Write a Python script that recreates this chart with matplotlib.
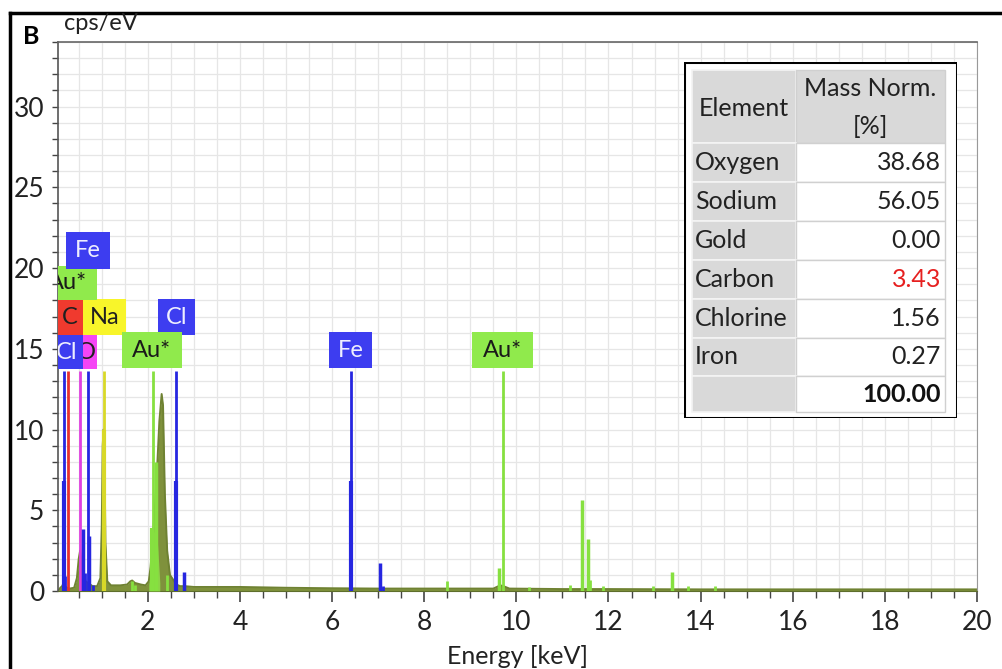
import numpy as np
import matplotlib
matplotlib.use('Agg')
import matplotlib.pyplot as plt
from matplotlib.patches import Rectangle
from matplotlib.ticker import MultipleLocator

plt.rcParams['font.family'] = ['Lato', 'DejaVu Sans']

# EDS spectrum (keV, cps/eV)
energy = [0.05, 0.10, 0.14, 0.17, 0.20, 0.24, 0.30, 0.40, 0.46, 0.50, 0.53, 0.56, 0.60,
          0.65, 0.70, 0.75, 0.80, 0.90, 0.97, 1.00, 1.02, 1.04, 1.06, 1.08, 1.12, 1.20,
          1.40, 1.55, 1.62, 1.66, 1.72, 1.85, 1.95, 2.02, 2.06, 2.10, 2.15, 2.20, 2.25,
          2.30, 2.33, 2.37, 2.42, 2.48, 2.55, 2.62, 2.70, 2.80, 3.0, 4.0, 5.0, 6.0, 7.0,
          8.0, 9.5, 9.65, 9.72, 9.85, 11.0, 12.0, 14.0, 16.0, 18.0, 20.0]
counts = [0.0, 0.2, 0.3, 0.5, 0.3, 0.2, 0.15, 0.2, 0.8, 2.0, 2.5, 1.8, 1.0,
          0.6, 0.5, 0.4, 0.3, 0.3, 0.8, 4.0, 9.0, 10.0, 8.0, 3.0, 0.6, 0.35,
          0.35, 0.4, 0.6, 0.65, 0.5, 0.4, 0.35, 0.6, 1.5, 3.0, 5.0, 7.5, 10.5,
          12.2, 11.5, 6.0, 2.5, 1.0, 0.7, 0.4, 0.3, 0.3, 0.25, 0.25, 0.2, 0.17, 0.15,
          0.15, 0.15, 0.35, 0.3, 0.15, 0.12, 0.12, 0.1, 0.1, 0.1, 0.1]

# Au deconvolution on the left flank of the 2.3 keV peak
au_fit_energy = [2.02, 2.06, 2.10, 2.14, 2.18, 2.22, 2.26]
au_fit_counts = [0.4, 1.2, 3.9, 3.6, 4.2, 2.5, 0.5]

# element line markers: energy, height, colour
line_energy = [0.18, 0.277, 0.525, 0.705, 1.041, 2.12, 2.62, 6.40, 9.71,
               0.18, 0.20, 0.59, 0.64, 0.72, 0.80, 1.04, 2.10, 2.18, 2.42, 1.66, 1.72,
               2.62, 2.79, 6.40, 7.04, 7.10, 8.49, 9.62, 10.28, 11.17, 11.42, 11.55,
               11.60, 11.89, 12.97, 13.37, 13.72, 14.31]
line_height = [13.65, 13.65, 13.65, 13.65, 13.65, 13.65, 13.65, 13.65, 13.65,
               6.8, 0.9, 3.85, 1.1, 3.4, 0.35, 10.0, 3.9, 8.0, 1.0, 0.6, 0.4,
               6.8, 1.15, 6.8, 1.75, 0.3, 0.6, 1.45, 0.25, 0.4, 5.65, 3.2,
               0.7, 0.3, 0.3, 1.15, 0.3, 0.3]
line_color = ['b', 'r', 'm', 'b', 'y', 'g', 'b', 'b', 'g',
              'b', 'b', 'b', 'b', 'b', 'b', 'y', 'g', 'g', 'g', 'g', 'g',
              'b', 'b', 'b', 'b', 'b', 'g', 'g', 'g', 'g', 'g', 'g',
              'g', 'g', 'g', 'g', 'g', 'g']
line_width = [2, 2, 2, 2, 2, 2, 2, 2, 2,
              3, 2, 2.5, 2, 2.5, 2, 3, 3, 2.5, 2, 2, 2,
              3, 2.5, 3, 2.5, 2, 2, 2.5, 2, 2, 2.5, 2.5,
              2, 2, 2, 2.5, 2, 2]

line_rgb = {'b': '#2626e0', 'r': '#e63030', 'm': '#e040e0', 'y': '#d8d828', 'g': '#86e040'}
box_rgb = {'b': '#3d3df0', 'r': '#f03a2e', 'm': '#f545f5', 'y': '#f8f52a', 'g': '#90ea4c'}
txt_rgb = {'b': '#eeeeff', 'r': '#202020', 'm': '#202020', 'y': '#202020', 'g': '#1a1a1a'}

# peak labels: text, colour, box left/right (keV), box bottom/top (cps/eV), text x
labels = [
    ('O', 'm', 0.30, 0.89, 13.75, 15.84, 0.66),
    ('Cl', 'b', -0.30, 0.59, 13.75, 15.84, 0.23),
    ('C', 'r', -0.10, 0.59, 15.84, 18.07, 0.31),
    ('Na', 'y', 0.59, 1.53, 15.84, 18.07, 1.06),
    ('Au*', 'g', -0.40, 0.90, 18.05, 20.12, 0.25),
    ('Fe', 'b', 0.23, 1.18, 19.94, 22.24, 0.70),
    ('Cl', 'b', 2.22, 3.03, 15.84, 18.07, 2.62),
    ('Au*', 'g', 1.44, 2.74, 13.79, 16.02, 2.09),
    ('Fe', 'b', 5.93, 6.87, 13.79, 16.02, 6.40),
    ('Au*', 'g', 9.04, 10.36, 13.79, 16.02, 9.70),
]

elements = ['Oxygen', 'Sodium', 'Gold', 'Carbon', 'Chlorine', 'Iron']
mass_norm = [38.68, 56.05, 0.00, 3.43, 1.56, 0.27]
mass_total = 100.00

fig = plt.figure(figsize=(10.02, 6.69), dpi=100)
ax = fig.add_axes([58/1002, 78/669, 919/1002, 549/669])

ax.fill_between(energy, counts, 0, color='#7f913c', lw=0, zorder=2)
ax.plot(energy, counts, color='#6f8232', lw=1.4, zorder=2)
ax.fill_between(au_fit_energy, au_fit_counts, 0, color='#8fe04a', alpha=0.85, lw=0, zorder=3)

for e, h, c, w in zip(line_energy, line_height, line_color, line_width):
    ax.plot([e, e], [0, h], color=line_rgb[c], lw=w, solid_capstyle='butt', zorder=4)

for i, (t, c, x0, x1, y0, y1, tx) in enumerate(labels):
    z = 5 + 2*i
    ax.add_patch(Rectangle((x0, y0), x1-x0, y1-y0, facecolor=box_rgb[c], edgecolor='none', zorder=z))
    ax.text(tx, (y0+y1)/2, t, color=txt_rgb[c], fontsize=17, ha='center', va='center',
            clip_on=True, zorder=z+1)

ax.set_xlim(0.05, 20)
ax.set_ylim(0, 34)
ax.xaxis.set_major_locator(MultipleLocator(2))
ax.xaxis.set_minor_locator(MultipleLocator(0.5))
ax.yaxis.set_major_locator(MultipleLocator(5))
ax.yaxis.set_minor_locator(MultipleLocator(1))
ax.set_xticks([2, 4, 6, 8, 10, 12, 14, 16, 18, 20])
ax.grid(which='both', color='#e6e6e6', lw=0.9, zorder=0)
ax.set_axisbelow(True)
ax.tick_params(axis='x', which='major', length=8, width=1.2, pad=6, labelsize=19, color='#444444')
ax.tick_params(axis='x', which='minor', length=5, width=1.0, color='#444444')
ax.tick_params(axis='y', which='both', length=4, width=1.0, pad=6, labelsize=19, color='#444444')
ax.set_xlabel('Energy [keV]', fontsize=18, labelpad=7, color='#222222')
for lab in ax.get_xticklabels() + ax.get_yticklabels():
    lab.set_color('#222222')
ax.spines['left'].set_color('#555555')
ax.spines['top'].set_color('#666666')
ax.spines['right'].set_color('#999999')
ax.spines['bottom'].set_color('#5e6e2c')
ax.spines['left'].set_linewidth(1.2)
ax.spines['top'].set_linewidth(1.2)

fig.text(64/1002, 1-24/669, 'cps/eV', fontsize=17, ha='left', va='center', color='#222222')
fig.text(23/1002, 1-37/669, 'B', fontsize=18, fontweight='bold', ha='left', va='center')

# black frame around the panel
fig.add_artist(plt.Line2D([10/1002, 10/1002], [0, 1-13/669], color='black', lw=2.5))
fig.add_artist(plt.Line2D([10/1002, 1], [1-13/669, 1-13/669], color='black', lw=2.5))

# quantification table
tab = fig.add_axes([684/1002, 1-418/669, 273/1002, 356/669])
tab.set_xlim(684, 957)
tab.set_ylim(418, 62)
tab.axis('off')
tab.add_patch(Rectangle((684, 62), 273, 356, facecolor='white', edgecolor='black', lw=2.2))
rows = [70, 143, 182, 221, 260, 299, 338, 376, 412]
c0, c1, c2 = 692, 796, 945
for r in range(len(rows)-1):
    y0, y1 = rows[r], rows[r+1]
    tab.add_patch(Rectangle((c0, y0), c1-c0, y1-y0, facecolor='#d9d9d9', edgecolor='#f4f4f4', lw=1.2))
    tab.add_patch(Rectangle((c1, y0), c2-c1, y1-y0, facecolor='#d9d9d9' if r == 0 else 'white',
                            edgecolor='#d0d0d0', lw=1.0))
fs = 18
tab.text((c0+c1)/2, 108, 'Element', fontsize=fs, ha='center', va='center', color='#222222')
tab.text((c1+c2)/2, 89, 'Mass Norm.', fontsize=fs, ha='center', va='center', color='#222222')
tab.text((c1+c2)/2, 126, '[%]', fontsize=fs, ha='center', va='center', color='#222222')
for r, (el, v) in enumerate(zip(elements, mass_norm)):
    yc = (rows[r+1] + rows[r+2]) / 2
    tab.text(c0+3, yc, el, fontsize=fs, ha='left', va='center', color='#222222')
    tab.text(c2-4, yc, '%.2f' % v, fontsize=fs, ha='right', va='center',
             color='#e62020' if el == 'Carbon' else '#222222')
tab.text(c2-4, (rows[-2]+rows[-1])/2, '%.2f' % mass_total, fontsize=fs, fontweight='bold',
         ha='right', va='center', color='#111111')

plt.savefig('out.png', dpi=100)
